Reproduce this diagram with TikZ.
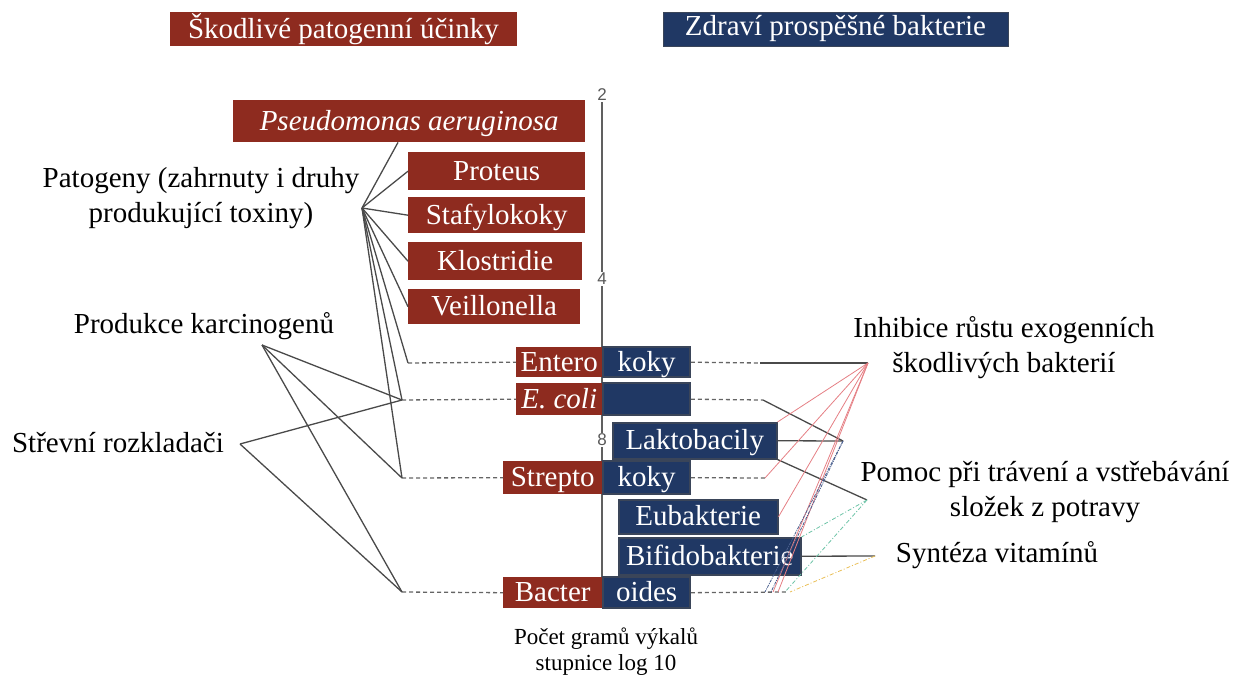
\documentclass[tikz,border=0pt]{standalone}
\usepackage{fontspec}
\setmainfont{Liberation Serif}
\newfontfamily\axisfont{Liberation Sans}
\usetikzlibrary{positioning}

\definecolor{patred}{HTML}{8E2B1F}
\definecolor{goodblue}{HTML}{203864}
\definecolor{blueedge}{HTML}{3A4559}
\definecolor{linegray}{HTML}{4A4A4A}
\definecolor{inhred}{HTML}{E57F84}
\definecolor{pomgreen}{HTML}{6CC3A6}
\definecolor{synyellow}{HTML}{E9BE55}
\definecolor{hubblue}{HTML}{4A5F8E}

\begin{document}
\begin{tikzpicture}[x=1pt,y=-1pt,
  txt/.style={font=\fontsize{29}{35}\selectfont, align=center, inner sep=0pt},
  box/.style={font=\fontsize{29}{35}\selectfont, text=white, inner sep=0pt,
    text height=20pt, text depth=2pt, anchor=north west},
  redbox/.style={box, fill=patred},
  bluebox/.style={box, fill=goodblue, draw=blueedge, line width=1.5pt},
  axnum/.style={font=\axisfont\fontsize{17}{18}\selectfont, text=gray!70!black, fill=white, inner sep=1pt},
  link/.style={linegray, line width=1.3pt},
  dashlink/.style={linegray!85, line width=1.3pt, dash pattern=on 4pt off 3pt},
  thinlink/.style={line width=0.8pt}]
  \useasboundingbox (0,0) rectangle (1237,679);

  % headers
  \node[txt, fill=patred, text=white, minimum width=347pt, minimum height=34pt] (hdbad) at (343.5,29) {Škodlivé patogenní účinky};
  \node[txt, fill=goodblue, draw=blueedge, text=white, minimum width=345pt, minimum height=34pt] (hdgood) at (835.5,29) {Zdraví prospěšné bakterie};

  % log scale axis
  \node[axnum] (ax2) at (602,95) {2};
  \node[axnum] (ax4) at (602,279) {4};
  \node[axnum] (ax8) at (602,440) {8};
  \coordinate (axend) at (602,577);
  \draw[gray!75!black, line width=1.6pt] (ax2) -- (ax4) (ax4) -- (ax8) (ax8) -- (axend);

  % pathogens
  \node[redbox, minimum width=352pt, minimum height=42pt] (pse) at (233,100) {\itshape Pseudomonas aeruginosa};
  \node[redbox, minimum width=177pt, minimum height=38pt] (pro) at (408,152) {Proteus};
  \node[redbox, minimum width=177pt, minimum height=36pt] (sta) at (408,197) {Stafylokoky};
  \node[redbox, minimum width=174pt, minimum height=38pt] (klo) at (408,242) {Klostridie};
  \node[redbox, minimum width=172pt, minimum height=35pt] (vei) at (408,289) {Veillonella};

  % mixed rows
  \node[redbox, minimum width=86pt, minimum height=30pt] (ent1) at (516,347) {Entero};
  \node[bluebox, minimum width=87pt, minimum height=30pt, right=0pt of ent1] (ent2) {koky};
  \node[redbox, minimum width=86pt, minimum height=32pt] (eco1) at (516,383) {\itshape E. coli};
  \node[bluebox, minimum width=87pt, minimum height=32pt, right=0pt of eco1] (eco2) {};
  \node[bluebox, minimum width=164pt, minimum height=36pt] (lak) at (612,422) {Laktobacily};
  \node[redbox, minimum width=99pt, minimum height=33pt] (str1) at (503,461) {Strepto};
  \node[bluebox, minimum width=87pt, minimum height=33pt, right=0pt of str1] (str2) {koky};
  \node[bluebox, minimum width=159pt, minimum height=34pt] (eub) at (618,499) {Eubakterie};
  \node[bluebox, minimum width=182pt, minimum height=37pt] (bif) at (618,537) {Bifidobakterie};
  \node[redbox, minimum width=99pt, minimum height=31pt] (bac1) at (503,577) {Bacter};
  \node[bluebox, minimum width=87pt, minimum height=31pt, right=0pt of bac1] (bac2) {oides};

  % labels
  \node[txt] (patL) at (201,198) {Patogeny (zahrnuty i druhy\\produkující toxiny)};
  \node[txt] (karL) at (204,326) {Produkce karcinogenů};
  \node[txt] (rozL) at (118,443) {Střevní rozkladači};
  \node[txt] (inhL) at (1004,348) {Inhibice růstu exogenních\\škodlivých bakterií};
  \node[txt] (pomL) at (1045,492) {Pomoc při trávení a vstřebávání\\složek z potravy};
  \node[txt] (synL) at (997,555) {Syntéza vitamínů};
  \node[txt, font=\fontsize{23}{26}\selectfont] (axL) at (606,652) {Počet gramů výkalů\\stupnice log 10};

  % hubs and line ends
  \coordinate (pat) at (362,208);
  \coordinate (kar) at (262,345);
  \coordinate (roz) at (240,444);
  \coordinate (inh) at (868,363);
  \coordinate (hub) at (843,441);
  \coordinate (pom) at (867,500);
  \coordinate (syn) at (875,556);
  \coordinate (entL) at (408,363);
  \coordinate (ecoL) at (402,400);
  \coordinate (strL) at (402,478);
  \coordinate (bacL) at (402,592);
  \coordinate (entR) at (760,363);
  \coordinate (ecoR) at (763,400);
  \coordinate (strR) at (765,478);
  \coordinate (bacR) at (787,592);
  \coordinate (bq1) at (765,592);
  \coordinate (bq2) at (771,592);
  \coordinate (bq3) at (773,592);
  \coordinate (bq4) at (778,592);
  \coordinate (bq5) at (785,592);
  \coordinate (bq6) at (790,592);

  % dashed rows
  \draw[dashlink] (entL) -- (ent1.west);
  \draw[dashlink] (ecoL) -- (eco1.west);
  \draw[dashlink] (strL) -- (str1.west);
  \draw[dashlink] (bacL) -- (bac1.west);
  \draw[dashlink] (ent2.east) -- (entR);
  \draw[dashlink] (eco2.east) -- (ecoR);
  \draw[dashlink] (str2.east) -- (strR);
  \draw[dashlink] (bac2.east) -- (bacR);

  % left side
  \draw[link] (pat) -- (pse.south west -| 398,0);
  \draw[link] (pat) -- (pro.west);
  \draw[link] (pat) -- (sta.west);
  \draw[link] (pat) -- (klo.west);
  \draw[link] (pat) -- (vei.west);
  \draw[link] (pat) -- (entL);
  \draw[link] (pat) -- (ecoL);
  \draw[link] (pat) -- (strL);
  \draw[link] (kar) -- (ecoL);
  \draw[link] (kar) -- (strL);
  \draw[link] (kar) -- (bacL);
  \draw[link] (roz) -- (ecoL);
  \draw[link] (roz) -- (bacL);

  % right side
  \draw[link] (entR) -- (inh);
  \draw[link] (ecoR) -- (hub);
  \draw[link] (lak.east) -- (hub);
  \draw[link] (lak.south east) -- (pom);
  \draw[link] (bif.east) -- (syn);
  \draw[thinlink, inhred] (inh) -- (lak.north east);
  \draw[thinlink, inhred] (inh) -- (strR);
  \draw[thinlink, inhred] (inh) -- (eub.east);
  \draw[thinlink, inhred] (inh) -- (bq3);
  \draw[thinlink, inhred] (inh) -- (bq4);
  \draw[thinlink, hubblue, dash pattern=on 3pt off 1pt on 1pt off 1pt] (hub) -- (bq1);
  \draw[thinlink, hubblue, dash pattern=on 3pt off 1pt on 1pt off 1pt] (hub) -- (bq2);
  \draw[thinlink, pomgreen, dash pattern=on 4pt off 2pt on 1pt off 2pt] (pom) -- (bif.north east);
  \draw[thinlink, pomgreen, dash pattern=on 4pt off 2pt on 1pt off 2pt] (pom) -- (bq5);
  \draw[thinlink, synyellow, dash pattern=on 4pt off 2pt on 1pt off 2pt] (syn) -- (bq6);
\end{tikzpicture}
\end{document}
